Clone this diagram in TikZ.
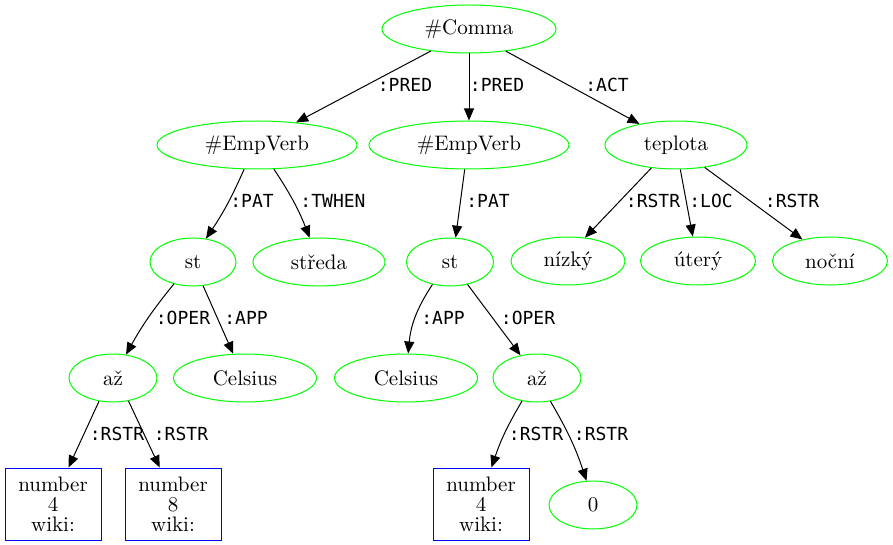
\documentclass[tikz,border=0pt]{standalone}
\usepackage{fontspec}
\newfontfamily\lblfont{DejaVu Sans Mono}
\usetikzlibrary{shapes.geometric,arrows.meta}

\tikzset{
  tnode/.style={ellipse, draw=green, line width=0.5pt, inner sep=0pt,
    minimum height=24pt, minimum width=#1, font=\fontsize{10.5}{12}\selectfont},
  tbox/.style={rectangle, draw=blue, line width=0.5pt, inner sep=0pt,
    minimum width=48pt, minimum height=36pt, align=center,
    font=\fontsize{10.5}{10}\selectfont},
  tedge/.style={-{Triangle[length=6pt,width=5pt]}, line width=0.5pt},
  tlabel/.style={font=\lblfont\fontsize{9}{10}\selectfont, inner sep=0pt}
}

\begin{document}
\begin{tikzpicture}[x=0.5pt,y=-0.5pt]

\useasboundingbox (0,0) rectangle (893,545);

\node[tnode=87pt] (comma) at (469,29) {\#Comma};

\node[tnode=100pt] (empverbA) at (257,145) {\#EmpVerb};
\node[tnode=100pt] (empverbB) at (469,145) {\#EmpVerb};
\node[tnode=71pt] (teplota) at (676,145) {teplota};

\node[tnode=43pt] (stA) at (193,262) {st};
\node[tnode=66pt] (streda) at (319,262) {středa};
\node[tnode=43.5pt] (stB) at (450,262) {st};
\node[tnode=57pt] (nizky) at (568,261) {nízký};
\node[tnode=57.5pt] (utery) at (698,261) {úterý};
\node[tnode=57.5pt] (nocni) at (830,261) {noční};

\node[tnode=44pt] (azA) at (113,378) {až};
\node[tnode=71.5pt] (celsiusA) at (245,378) {Celsius};
\node[tnode=71.5pt] (celsiusB) at (406,378) {Celsius};
\node[tnode=44pt] (azB) at (537,378) {až};

\node[tbox] (numA) at (53,504) {number\\4\\wiki:};
\node[tbox] (numB) at (173,504) {number\\8\\wiki:};
\node[tbox] (numC) at (481,504) {number\\4\\wiki:};
\node[tnode=44pt] (zero) at (593,505) {0};

\foreach \a/\b in {comma.210/empverbA.30, comma.270/empverbB.90,
  comma.329/teplota.150, empverbB.260/stB.77, teplota.223/nizky.54,
  teplota.280/utery.102, teplota.322/nocni.142, stA.293/celsiusA.116,
  stB.308/azB.126, azA.239/numA.67, azA.304/numB.110}
{
  \draw[tedge] (\a) -- (\b);
}

\draw[tedge] (empverbA.242) to[bend left=5] (stA.61);
\draw[tedge] (empverbA.305) to[bend left=6] (streda.111);
\draw[tedge] (stA.229) to[bend right=5] (azA.61);
\draw[tedge] (stB.232) to[bend right=14] (celsiusB.85);
\draw[tedge] (azB.237) to[bend right=6] (numC.74);
\draw[tedge] (azB.300) to[bend left=6] (zero.105);

\foreach \n/\x/\y/\t in {predA/405/85/:PRED, predB/497/85/:PRED, act/607/85/:ACT,
  patA/252/201/:PAT, twhen/333/201/:TWHEN, patB/488/201/:PAT,
  rstrA/653/201/:RSTR, loc/711/201/:LOC, rstrB/792/201/:RSTR,
  operA/183/318/:OPER, appA/246/318/:APP, appB/443/318/:APP, operB/528/318/:OPER,
  rstrC/117/434/:RSTR, rstrD/181/434/:RSTR, rstrE/536/434/:RSTR, rstrF/601/434/:RSTR}
{
  \node[tlabel] (lbl\n) at (\x,\y) {\t};
}

\end{tikzpicture}
\end{document}
